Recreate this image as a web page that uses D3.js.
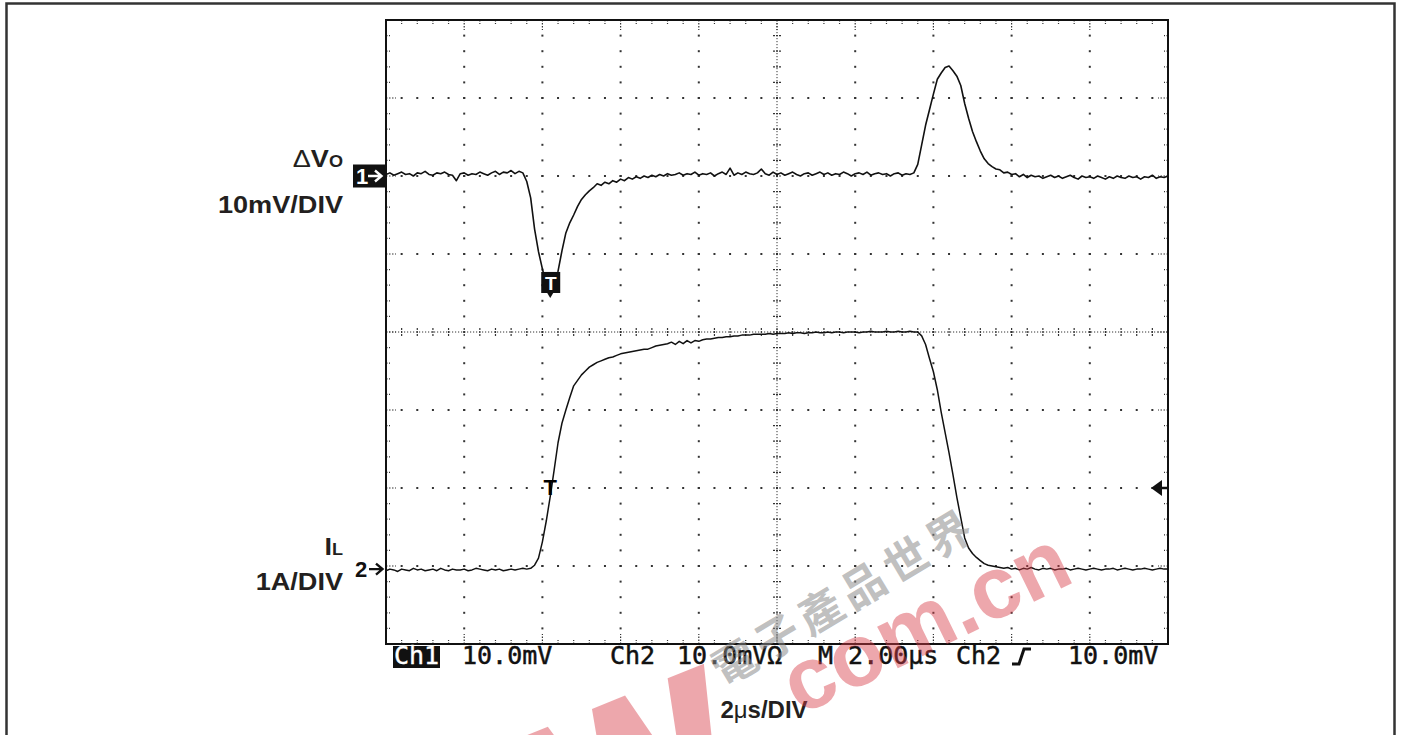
<!DOCTYPE html>
<html>
<head>
<meta charset="utf-8">
<script src="https://cdn.jsdelivr.net/npm/d3@7"></script>
<style>
  body { margin: 0; background: #fff; }
  svg { display: block; }
</style>
</head>
<body>
<div id="scope"></div>
<script>
var svgWidth = 1402;
var svgHeight = 735;

// screen area of the scope graticule
var plot = { left: 386, top: 20, right: 1168, bottom: 644 };

// time base: 2 us/div, 10 divisions, one sample every 0.1 us
var timeDomain = [0, 20];
var timeStep = 0.1;
var divDomain = [-4, 4];

// Ch1: output voltage deviation, mV (10 mV/div)
var ch1Values = [
  0.2, 0.4, 0.1, 0.3, 0.5, 0.2, 0.3, 0.0, 0.4, 0.3,
  0.6, 0.2, 0.1, 0.4, 0.3, 0.5, 0.2, 0.1, -0.6, 0.3,
  0.4, 0.1, 0.3, 0.2, 0.5, 0.3, 0.1, 0.4, 0.6, 0.2,
  0.5, 0.4, 0.7, 0.3, 0.6, 0.4, -0.7, -2.8, -6.8, -9.7,
  -11.9, -13.9, -15.3, -14.0, -12.2, -9.6, -7.3, -6.0, -5.0, -3.9,
  -3.0, -2.4, -1.9, -1.5, -1.0, -1.2, -0.8, -1.0, -0.6, -0.8,
  -0.4, -0.6, -0.2, -0.4, -0.1, -0.3, 0.0, -0.2, 0.1, -0.1,
  0.2, 0.0, 0.3, 0.1, 0.2, 0.4, 0.1, 0.3, 0.2, 0.5,
  0.1, 0.3, 0.2, 0.4, 0.0, 0.3, 0.5, 0.2, 1.0, 0.1,
  0.4, 0.2, 0.5, 0.3, 0.2, 0.4, 0.9, 0.3, 0.1, 0.5,
  0.2, 0.4, 0.1, 0.3, 0.5, 0.2, 0.0, 0.3, 0.4, 0.1,
  0.3, 0.5, 0.2, 0.4, 0.1, 0.3, 0.2, 0.5, 0.3, 0.0,
  0.3, 0.4, 0.2, 0.5, 0.1, 0.3, 0.4, 0.2, 0.3, 0.0,
  0.3, 0.4, 0.1, 0.3, 0.2, 0.4, 1.5, 4.0, 6.5, 8.5,
  10.5, 12.4, 13.2, 13.9, 14.1, 13.5, 12.8, 11.6, 9.3, 7.4,
  5.7, 4.4, 3.2, 2.2, 1.6, 1.2, 0.9, 0.8, 0.4, 0.5,
  0.2, 0.3, -0.1, 0.2, -0.2, 0.1, -0.1, 0.0, -0.3, -0.1,
  0.1, -0.2, 0.0, -0.3, -0.1, 0.1, -0.2, -0.4, 0.0, -0.2,
  -0.1, -0.3, 0.0, -0.2, -0.4, -0.1, -0.3, 0.0, -0.2, -0.3,
  0.0, -0.2, -0.1, -0.4, -0.1, -0.2, 0.1, -0.3, -0.1, -0.2,
  0.0
];

// Ch2: inductor current, A (1 A/div)
var ch2Values = [
  -0.02, 0.00, -0.01, -0.03, 0.00, -0.01, -0.02, 0.01, -0.01, 0.00,
  -0.02, -0.01, 0.00, -0.02, 0.01, -0.01, -0.02, 0.00, -0.01, -0.01,
  0.00, -0.02, -0.01, 0.01, 0.00, -0.01, -0.02, 0.00, -0.01, 0.00,
  -0.02, -0.01, 0.00, -0.01, 0.00, 0.01, 0.00, 0.01, 0.05, 0.14,
  0.35, 0.62, 0.93, 1.27, 1.62, 1.87, 2.04, 2.20, 2.35, 2.42,
  2.49, 2.54, 2.59, 2.62, 2.65, 2.67, 2.69, 2.71, 2.72, 2.74,
  2.76, 2.77, 2.78, 2.79, 2.80, 2.81, 2.82, 2.82, 2.84, 2.86,
  2.87, 2.88, 2.89, 2.91, 2.88, 2.92, 2.89, 2.93, 2.90, 2.93,
  2.92, 2.94, 2.95, 2.95, 2.96, 2.97, 2.97, 2.98, 2.98, 2.99,
  2.99, 3.00, 3.00, 3.00, 3.01, 3.01, 3.01, 3.01, 3.02, 3.01,
  3.02, 3.02, 3.02, 3.03, 3.02, 3.03, 3.03, 3.02, 3.03, 3.03,
  3.04, 3.03, 3.03, 3.04, 3.03, 3.04, 3.04, 3.03, 3.04, 3.04,
  3.04, 3.03, 3.04, 3.04, 3.05, 3.04, 3.04, 3.04, 3.05, 3.04,
  3.04, 3.05, 3.04, 3.04, 3.05, 3.04, 3.04, 2.99, 2.88, 2.70,
  2.53, 2.30, 2.01, 1.75, 1.49, 1.21, 0.92, 0.66, 0.40, 0.27,
  0.20, 0.15, 0.11, 0.07, 0.05, 0.04, 0.03, 0.02, 0.01, 0.02,
  0.00, 0.01, -0.01, 0.01, 0.00, 0.02, 0.00, -0.01, 0.01, 0.00,
  0.01, -0.01, 0.00, 0.00, 0.01, -0.01, 0.00, 0.01, 0.00, -0.01,
  0.00, 0.01, 0.00, -0.01, 0.00, 0.00, 0.01, -0.01, 0.00, 0.01,
  0.00, -0.01, 0.00, 0.00, 0.01, 0.00, -0.01, 0.00, 0.01, 0.00,
  0.00
];

// channel settings (offset in divisions from screen centre)
var ch1Offset = 2.0, ch1PerDiv = 10;
var ch2Offset = -3.04, ch2PerDiv = 1;
var triggerTime = 4.2;
var triggerLevel = 1.04;

// readout line along the bottom of the screen
var statusItems = [
  { text: "10.0mV", x: 462 },
  { text: "Ch2", x: 610 },
  { text: "10.0mV\u03A9", x: 677 },
  { text: "M 2.00\u00B5s", x: 818 },
  { text: "Ch2", x: 956 },
  { text: "10.0mV", x: 1068 }
];

var svg = d3.select("#scope")
  .append("svg")
  .attr("width", svgWidth)
  .attr("height", svgHeight);

// scales
var x = d3.scaleLinear().domain(timeDomain).range([plot.left, plot.right]);
var yDiv = d3.scaleLinear().domain(divDomain).range([plot.bottom, plot.top]);
var yCh1 = function(v) { return yDiv(ch1Offset + v / ch1PerDiv); };
var yCh2 = function(v) { return yDiv(ch2Offset + v / ch2PerDiv); };

// outer frame
svg.append("rect")
  .attr("x", 6.5).attr("y", 3.5)
  .attr("width", 1388).attr("height", 760)
  .attr("fill", "none")
  .attr("stroke", "#333")
  .attr("stroke-width", 2.5);

// ----- graticule -----
var grid = svg.append("g");
var minorT = d3.range(0, 20.001, 0.4);
var minorD = d3.range(-4, 4.001, 0.2);
var majorT = d3.range(2, 19, 2).filter(d => d !== 10);
var majorD = [-3, -2, -1, 1, 2, 3];

var dots = [];
majorT.forEach(function(t) {
  minorD.slice(1, -1).forEach(function(d) { dots.push([x(t), yDiv(d)]); });
});
majorD.forEach(function(d) {
  minorT.slice(1, -1).forEach(function(t) { dots.push([x(t), yDiv(d)]); });
});
grid.selectAll(".dot")
  .data(dots)
  .enter()
  .append("rect")
  .attr("x", d => d[0] - 1)
  .attr("y", d => d[1] - 1)
  .attr("width", 2).attr("height", 2)
  .attr("fill", "#333");

// centre cross lines, finely dotted with minor ticks
grid.append("line")
  .attr("x1", plot.left).attr("x2", plot.right)
  .attr("y1", yDiv(0)).attr("y2", yDiv(0))
  .attr("stroke", "#333").attr("stroke-dasharray", "1.2,1.8");
grid.append("line")
  .attr("x1", x(10)).attr("x2", x(10))
  .attr("y1", plot.top).attr("y2", plot.bottom)
  .attr("stroke", "#333").attr("stroke-dasharray", "1.2,1.8");

grid.selectAll(".htick")
  .data(minorT.slice(1, -1))
  .enter()
  .append("line")
  .attr("x1", d => x(d)).attr("x2", d => x(d))
  .attr("y1", yDiv(0) - 4).attr("y2", yDiv(0) + 4)
  .attr("stroke", "#333").attr("stroke-width", 1.2)
  .attr("stroke-dasharray", "2,1");
grid.selectAll(".vtick")
  .data(minorD.slice(1, -1))
  .enter()
  .append("line")
  .attr("x1", x(10) - 4).attr("x2", x(10) + 4)
  .attr("y1", d => yDiv(d)).attr("y2", d => yDiv(d))
  .attr("stroke", "#333").attr("stroke-width", 1.2)
  .attr("stroke-dasharray", "2,1");

// border ticks
var borderTicks = [];
minorT.slice(1, -1).forEach(function(t) {
  var len = (Math.abs(t % 2) < 0.01 || Math.abs(t % 2 - 2) < 0.01) ? 10 : 4;
  borderTicks.push([x(t), plot.top, x(t), plot.top + len]);
  borderTicks.push([x(t), plot.bottom, x(t), plot.bottom - len]);
});
minorD.slice(1, -1).forEach(function(d) {
  var len = Math.abs(d - Math.round(d)) < 0.01 ? 10 : 4;
  borderTicks.push([plot.left, yDiv(d), plot.left + len, yDiv(d)]);
  borderTicks.push([plot.right, yDiv(d), plot.right - len, yDiv(d)]);
});
grid.selectAll(".btick")
  .data(borderTicks)
  .enter()
  .append("line")
  .attr("x1", d => d[0]).attr("y1", d => d[1])
  .attr("x2", d => d[2]).attr("y2", d => d[3])
  .attr("stroke", "#333").attr("stroke-width", 1.2)
  .attr("stroke-dasharray", "1.5,1.5");

// screen border
svg.append("rect")
  .attr("x", plot.left).attr("y", plot.top)
  .attr("width", plot.right - plot.left)
  .attr("height", plot.bottom - plot.top)
  .attr("fill", "none")
  .attr("stroke", "#111")
  .attr("stroke-width", 2);

// ----- traces -----
var ch1Line = d3.line()
  .x((d, i) => x(i * timeStep))
  .y(d => yCh1(d));
var ch2Line = d3.line()
  .x((d, i) => x(i * timeStep))
  .y(d => yCh2(d));

svg.append("path")
  .datum(ch1Values)
  .attr("d", ch1Line)
  .attr("fill", "none")
  .attr("stroke", "#111")
  .attr("stroke-width", 1.6)
  .attr("stroke-linejoin", "round");

svg.append("path")
  .datum(ch2Values)
  .attr("d", ch2Line)
  .attr("fill", "none")
  .attr("stroke", "#111")
  .attr("stroke-width", 1.5)
  .attr("stroke-linejoin", "round");

// trigger markers "T"
var tx = x(triggerTime);
svg.append("rect")
  .attr("x", tx - 9).attr("y", yCh1(-12.3))
  .attr("width", 19).attr("height", yCh1(-15.0) - yCh1(-12.3))
  .attr("fill", "#111");
svg.append("path")
  .attr("d", `M${tx - 3},${yCh1(-15.0)} L${tx + 3},${yCh1(-15.0)} L${tx},${yCh1(-15.0) + 5}Z`)
  .attr("fill", "#111");
svg.append("text")
  .attr("x", tx + 0.5).attr("y", yCh1(-15.0) - 3)
  .attr("text-anchor", "middle")
  .attr("font-family", "Liberation Sans, Arial, sans-serif")
  .attr("font-weight", "bold").attr("font-size", 19)
  .attr("fill", "#fff")
  .text("T");
svg.append("text")
  .attr("x", tx).attr("y", yCh2(triggerLevel) + 7)
  .attr("text-anchor", "middle")
  .attr("font-family", "Liberation Sans, Arial, sans-serif")
  .attr("font-weight", "bold").attr("font-size", 22)
  .attr("fill", "#000")
  .text("T");

// trigger level arrow on the right
var ty = yCh2(triggerLevel);
svg.append("path")
  .attr("d", `M${plot.right - 17},${ty} L${plot.right - 6},${ty - 8} L${plot.right - 6},${ty + 8}Z M${plot.right - 7},${ty - 1.2} L${plot.right},${ty - 1.2} L${plot.right},${ty + 1.2} L${plot.right - 7},${ty + 1.2}Z`)
  .attr("fill", "#111");

// channel ground markers
var g1 = yCh1(0);
svg.append("rect")
  .attr("x", 353).attr("y", g1 - 11.5)
  .attr("width", plot.left - 353).attr("height", 23)
  .attr("fill", "#111");
svg.append("text")
  .attr("x", 356).attr("y", g1 + 8)
  .attr("font-family", "Liberation Sans, Arial, sans-serif")
  .attr("font-weight", "bold").attr("font-size", 22)
  .attr("fill", "#fff")
  .text("1");
svg.append("path")
  .attr("d", `M368,${g1} L381,${g1} M375,${g1 - 5.5} L381.5,${g1} L375,${g1 + 5.5}`)
  .attr("fill", "none").attr("stroke", "#fff").attr("stroke-width", 2.4);

var g2 = yCh2(0);
svg.append("text")
  .attr("x", 355).attr("y", g2 + 8)
  .attr("font-family", "Liberation Sans, Arial, sans-serif")
  .attr("font-weight", "bold").attr("font-size", 22)
  .attr("fill", "#111")
  .text("2");
svg.append("path")
  .attr("d", `M369,${g2} L382,${g2} M376,${g2 - 5.5} L382.5,${g2} L376,${g2 + 5.5}`)
  .attr("fill", "none").attr("stroke", "#111").attr("stroke-width", 2.4);

// ----- left labels -----
function label(xr, yb, parts) {
  var t = svg.append("text")
    .attr("transform", `translate(${xr},${yb}) scale(1.13,1)`)
    .attr("text-anchor", "end")
    .attr("font-family", "Liberation Sans, Arial, sans-serif")
    .attr("font-weight", "bold")
    .attr("font-size", 24)
    .attr("fill", "#231f20");
  parts.forEach(function(p) {
    var s = t.append("tspan").text(p.text);
    if (p.size) s.attr("font-size", p.size);
    if (p.weight) s.attr("font-weight", p.weight);
  });
}
label(343, 167, [{ text: "\u0394", weight: "normal" }, { text: "V" }, { text: "O", size: 16 }]);
label(343, 213, [{ text: "10mV/DIV" }]);
label(343, 555, [{ text: "I" }, { text: "L", size: 16 }]);
label(343, 590, [{ text: "1A/DIV" }]);

// ----- readout line -----
var mono = "DejaVu Sans Mono, monospace";
svg.append("rect")
  .attr("x", 393).attr("y", 646)
  .attr("width", 47).attr("height", 22)
  .attr("fill", "#111");
svg.append("text")
  .attr("x", 394).attr("y", 664)
  .attr("font-family", mono).attr("font-size", 25)
  .attr("fill", "#fff").attr("stroke", "#fff").attr("stroke-width", 0.4)
  .text("Ch1");
svg.selectAll(".status")
  .data(statusItems)
  .enter()
  .append("text")
  .attr("x", d => d.x).attr("y", 664)
  .attr("font-family", mono).attr("font-size", 25)
  .attr("fill", "#111").attr("stroke", "#111").attr("stroke-width", 0.5)
  .text(d => d.text);
// rising edge trigger symbol
svg.append("path")
  .attr("d", "M1012,664 L1019,664 L1024,649 L1031,649")
  .attr("fill", "none").attr("stroke", "#111").attr("stroke-width", 3);

// time base label
var tb = svg.append("text")
  .attr("x", 764).attr("y", 718)
  .attr("text-anchor", "middle")
  .attr("font-family", "Liberation Sans, Arial, sans-serif")
  .attr("font-weight", "bold").attr("font-size", 24)
  .attr("fill", "#231f20");
tb.append("tspan").text("2");
tb.append("tspan").attr("font-weight", "normal").text("\u03BC");
tb.append("tspan").text("s/DIV");

// ----- watermark -----
var wm = svg.append("g").attr("pointer-events", "none");
var pink = "rgb(215,60,72)";
// big "W" letter shape, partly off the bottom edge
wm.append("path")
  .attr("transform", "translate(510,742) rotate(-22) scale(0.85)")
  .attr("d", "M0,0 L48,0 L78,118 L104,0 L146,0 L172,118 L200,0 L246,0 L196,175 L150,175 L125,68 L100,175 L52,175 Z")
  .attr("fill", pink).attr("fill-opacity", 0.45);
wm.append("text")
  .attr("transform", "translate(800,716) rotate(-26)")
  .attr("font-family", "Liberation Sans, Arial, sans-serif")
  .attr("font-weight", "bold").attr("font-size", 88)
  .attr("fill", pink).attr("fill-opacity", 0.45)
  .text("com.cn");
wm.append("text")
  .attr("transform", "translate(724,688) rotate(-31)")
  .attr("font-family", "Noto Sans CJK TC, sans-serif")
  .attr("font-weight", "bold").attr("font-size", 44)
  .attr("letter-spacing", 6)
  .attr("fill", "#8a8a8a").attr("fill-opacity", 0.55)
  .text("電子產品世界");
</script>
</body>
</html>
